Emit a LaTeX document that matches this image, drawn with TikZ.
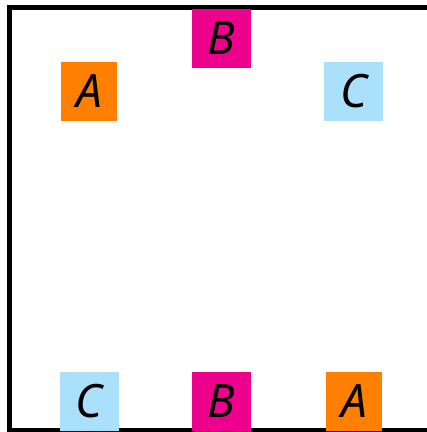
\documentclass[tikz,border=0pt]{standalone}
\usepackage{fontspec}
\setmainfont{Noto Sans}
\definecolor{cOrange}{RGB}{255,128,0}
\definecolor{cPink}{RGB}{236,0,140}
\definecolor{cBlue}{RGB}{170,224,250}
\begin{document}
\begin{tikzpicture}[x=1pt,y=-1pt,
  letterbox/.style={minimum width=59pt,minimum height=59pt,inner sep=0pt,font=\fontsize{46}{50}\selectfont\itshape},
  frameline/.style={line width=5pt,line cap=rect}]
\useasboundingbox (0,0) rectangle (427,432);
\begin{scope}
\clip (0,0) rectangle (427,432);
\draw[frameline] (440,7.5) -- (9.8,7.5) -- (9.8,430) -- (440,430);
\end{scope}
\node[letterbox,fill=cOrange,minimum width=56pt] (a1) at (89,91.5) {A};
\node[letterbox,fill=cPink] (b1) at (221.5,38.5) {B};
\node[letterbox,fill=cBlue] (c1) at (353.5,91.5) {C};
\node[letterbox,fill=cBlue] (c2) at (89.5,401.5) {C};
\node[letterbox,fill=cPink] (b2) at (221.5,401.5) {B};
\node[letterbox,fill=cOrange,minimum width=56pt] (a2) at (354,401.5) {A};
\end{tikzpicture}
\end{document}
